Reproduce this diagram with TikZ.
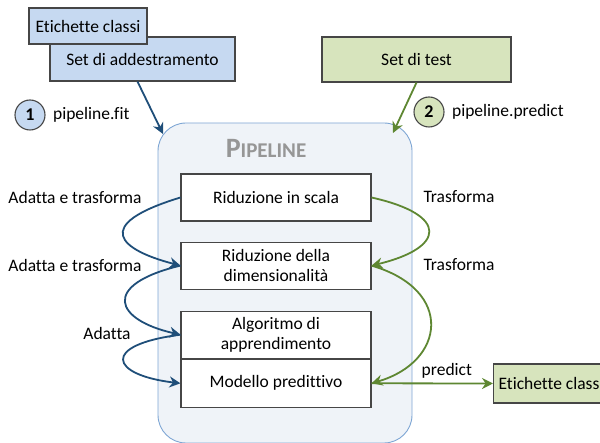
\documentclass[tikz,border=0pt]{standalone}
\usepackage{fontspec}
\setmainfont{Carlito}[Ligatures=NoCommon]
\usetikzlibrary{positioning, arrows.meta}
\definecolor{boxblue}{RGB}{198, 217, 241}
\definecolor{boxgreen}{RGB}{215, 228, 189}
\definecolor{flowblue}{RGB}{31, 78, 121}
\definecolor{flowgreen}{RGB}{94, 135, 50}
\definecolor{pipefill}{RGB}{239, 243, 248}
\definecolor{pipeedge}{RGB}{126, 166, 212}
\definecolor{boxedge}{RGB}{70, 70, 70}
\definecolor{titlegray}{RGB}{150, 150, 150}
\tikzset{
  dataBox/.style={
    draw=boxedge,
    line width=1.1pt,
    inner sep=0pt,
    font=\fontsize{17.5}{19}\selectfont
  },
  stageBox/.style={
    draw=boxedge,
    line width=1.1pt,
    fill=white,
    minimum width=190pt,
    minimum height=47pt,
    inner sep=0pt,
    align=center,
    font=\fontsize{17.5}{20}\selectfont
  },
  stepNum/.style={
    draw=boxedge,
    line width=1.1pt,
    circle,
    minimum size=30pt,
    inner sep=0pt,
    font=\fontsize{18}{20}\selectfont\bfseries
  },
  sideText/.style={
    font=\fontsize{17.5}{19}\selectfont
  },
  blueFlow/.style={
    -{Stealth[length=11pt,width=11pt]},
    line width=1.8pt,
    draw=flowblue
  },
  greenFlow/.style={
    -{Stealth[length=11pt,width=11pt]},
    line width=1.8pt,
    draw=flowgreen
  }
}

\begin{document}
\begin{tikzpicture}[x=1pt, y=-1pt]
  \useasboundingbox (0,0) rectangle (600,443);

  % the pipeline frame
  \node[draw=pipeedge, fill=pipefill, line width=0.9pt, rounded corners=28pt,
        minimum width=254pt, minimum height=320pt] (pipe) at (285,283) {};
  \node[text=titlegray, font=\bfseries] (title) at (266,148)
    {\fontsize{28}{29}\selectfont P\fontsize{21}{22}\selectfont IPELINE};

  % inputs
  \node[dataBox, fill=boxblue, minimum width=185pt, minimum height=44pt] (train) at (142.5,59) {Set di addestramento};
  \node[dataBox, fill=boxblue, minimum width=118pt, minimum height=36pt] (labels) at (88,26) {Etichette classi};
  \node[dataBox, fill=boxgreen, minimum width=189pt, minimum height=45pt] (test) at (416.5,59.5) {Set di test};

  \node[stepNum, fill=boxblue] (one) at (30,115) {1};
  \node[sideText, right=4pt of one] (fit) {pipeline.fit};
  \node[stepNum, fill=boxgreen] (two) at (429,112) {2};
  \node[sideText, right=4pt of two] (predictcall) {pipeline.predict};

  % stages
  \node[stageBox] (scale) at (276,197.5) {Riduzione in scala};
  \node[stageBox, below=20pt of scale] (dimred) {Riduzione della\\dimensionalità};
  \node[stageBox, below=21pt of dimred] (algo) {Algoritmo di\\apprendimento};
  \node[stageBox, below=0pt of algo, minimum height=48pt] (model) {Modello predittivo};

  % output
  \node[dataBox, fill=boxgreen, anchor=west, minimum height=39pt, inner xsep=5pt] (out) at (493,383.5) {Etichette classi};

  % side labels
  \node[sideText] (lab1) at (75,197) {Adatta e trasforma};
  \node[sideText] (lab2) at (75,265) {Adatta e trasforma};
  \node[sideText] (lab3) at (107,333) {Adatta};
  \node[sideText] (lab4) at (459,197) {Trasforma};
  \node[sideText] (lab5) at (459,265) {Trasforma};

  \coordinate (fitin) at (163,134);
  \coordinate (predin) at (393,133);

  % fit
  \draw[blueFlow] ([xshift=-5pt]train.south) -- (fitin);
  \draw[blueFlow] (scale.west) .. controls (90,225) and (120,250) .. (dimred.west);
  \draw[blueFlow] (dimred.west) .. controls (100,285) and (115,320) .. (algo.west);
  \draw[blueFlow] (algo.west) .. controls (100,345) and (110,375) .. (model.west);

  % predict
  \draw[greenFlow] (test.south) -- (predin);
  \draw[greenFlow] (scale.east) .. controls (450,215) and (445,248) .. (dimred.east);
  \draw[greenFlow] (dimred.east) .. controls (455,290) and (445,362) .. (model.east);
  \draw[greenFlow] (model.east) -- node[sideText, above=1pt, pos=0.62] {predict} (out.west);
\end{tikzpicture}
\end{document}
